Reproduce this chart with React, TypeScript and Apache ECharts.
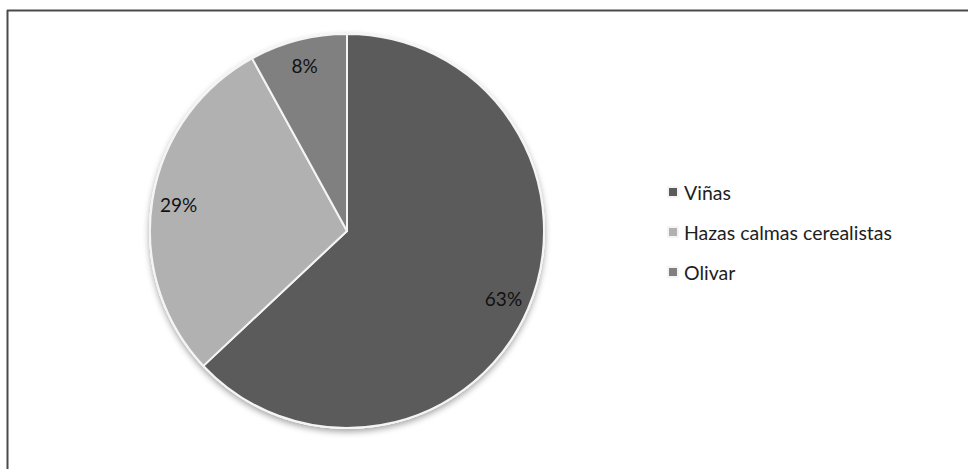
import React, { useEffect, useRef } from "react";
import * as echarts from "echarts";

const categories = ["Viñas", "Hazas calmas cerealistas", "Olivar"];
const values = [63, 29, 8];
const colors = ["#5b5b5b", "#b1b1b1", "#808080"];

export default function App() {
  const ref = useRef<HTMLDivElement>(null);
  useEffect(() => {
    if (!ref.current) return;
    const chart = echarts.init(ref.current, null, { renderer: "svg" });
    const data = categories.map((name, i) => ({
      name,
      value: values[i],
      itemStyle: { color: colors[i] },
    }));
    const total = values.reduce((a, b) => a + b, 0);
    const font = "Lato, 'Open Sans', sans-serif";
    chart.setOption({
      animation: false,
      backgroundColor: "#ffffff",
      legend: {
        orient: "vertical",
        left: 667,
        top: 182,
        padding: 0,
        itemWidth: 10,
        itemHeight: 10,
        itemGap: 20,
        icon: "rect",
        data: categories,
        textStyle: { fontSize: 19.5, color: "#1e1e1e", fontFamily: font, padding: [0, 0, 0, 1] },
      },
      graphic: [
        { type: "line", shape: { x1: 7, y1: 10.5, x2: 968, y2: 10.5 }, style: { stroke: "#4a4a4a", lineWidth: 2 } },
        { type: "line", shape: { x1: 7.5, y1: 10, x2: 7.5, y2: 469 }, style: { stroke: "#4a4a4a", lineWidth: 2 } },
      ],
      series: [
        {
          type: "pie",
          silent: true,
          center: [347, 231],
          radius: 198,
          z: 1,
          label: { show: false },
          labelLine: { show: false },
          itemStyle: { color: "#ffffff", shadowBlur: 6, shadowOffsetY: 3, shadowColor: "rgba(0,0,0,0.35)" },
          data: [{ name: "_bg", value: total }],
        },
        {
          type: "pie",
          center: [347, 231],
          radius: 197,
          startAngle: 90,
          clockwise: true,
          z: 2,
          label: { show: false },
          labelLine: { show: false },
          itemStyle: { borderColor: "#f4f4f4", borderWidth: 2 },
          data,
        },
        {
          type: "pie",
          silent: true,
          center: [347, 231],
          radius: [138, 197],
          startAngle: 90,
          clockwise: true,
          z: 3,
          itemStyle: { color: "rgba(0,0,0,0)", borderWidth: 0 },
          label: {
            show: true,
            position: "inside",
            formatter: "{d}%",
            fontSize: 19,
            color: "#111111",
            fontFamily: font,
          },
          labelLine: { show: false },
          emphasis: { disabled: true },
          data: categories.map((name, i) => ({ name, value: values[i] })),
        },
      ],
    });
    return () => chart.dispose();
  }, []);
  return (
    <div
      ref={ref}
      style={{ position: "fixed", left: 0, top: 0, width: 968, height: 469 }}
    />
  );
}
